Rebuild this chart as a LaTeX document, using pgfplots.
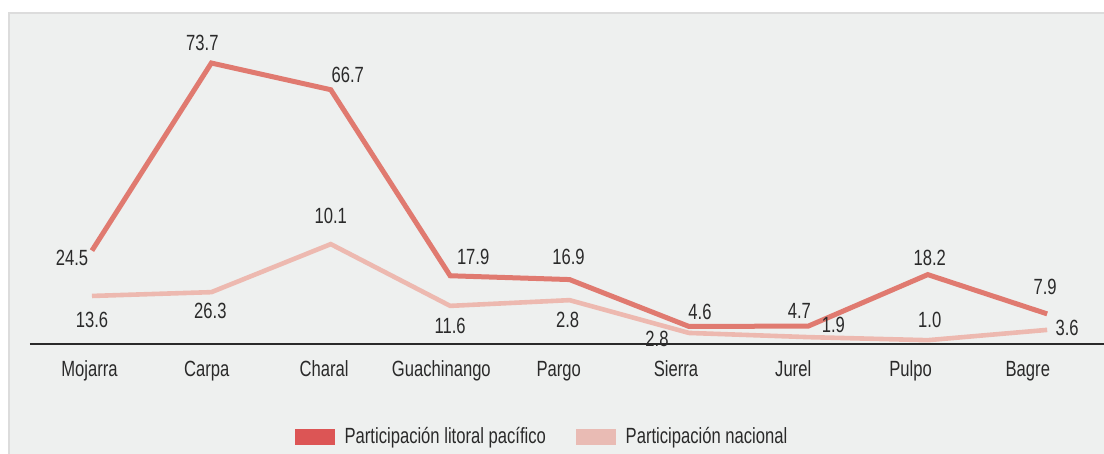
\documentclass[border=0pt]{standalone}
\usepackage{pgfplots}
\pgfplotsset{compat=1.18}
\usepackage{pgfplotstable}
\usepackage{fontspec}
\setmainfont{Liberation Sans}[FakeStretch=0.755]
\definecolor{panel}{HTML}{EEF0EF}
\definecolor{panelborder}{HTML}{DCDCDC}
\definecolor{txt}{HTML}{2A2A2A}
\definecolor{litoral}{HTML}{E07A70}
\definecolor{nacional}{HTML}{EDB9B0}
\definecolor{legred}{HTML}{DC5555}
\definecolor{legpink}{HTML}{E9BBB4}

\pgfplotstableread{
x y lab dx dy
0 24.5 24.5 -20 7.5
1 73.7 73.7 -9 -20
2 66.7 66.7 17 -15
3 17.9 17.9 23 -19
4 16.9 16.9 -1 -23
5 4.6 4.6 11 -14.5
6 4.7 4.7 -9 -15
7 18.2 18.2 2 -17
8 7.9 7.9 -2 -27
}\litoraltable

\pgfplotstableread{
x y lab dx dy
0 12.6 13.6 0 24
1 13.6 26.3 -1 19
2 26.2 10.1 0 -28
3 10.0 11.6 0 20
4 11.5 2.8 -2 20
5 2.9 2.8 -32 6
6 1.8 1.9 25 -12
7 1.0 1.0 2 -20
8 3.7 3.6 20 -2
}\nacionaltable

\begin{document}
\begin{tikzpicture}[font=\fontsize{11}{13.2}\selectfont, text=txt]
\useasboundingbox (-15pt,-55pt) rectangle (537pt,172pt);
\begin{scope}
\clip (-15pt,-55pt) rectangle (537pt,172pt);
\filldraw[fill=panel, draw=panelborder, line width=0.8pt] (-10.5pt,165.5pt) rectangle (545pt,-62pt);
\end{scope}
\begin{axis}[
  scale only axis,
  width=537pt, height=152.5pt,
  xmin=-0.519, xmax=8.476,
  ymin=0, ymax=80,
  clip=false,
  axis x line=bottom,
  axis y line=none,
  axis line style={-, draw=txt, line width=0.8pt},
  xtick={-0.021,0.961,1.944,2.926,3.909,4.891,5.873,6.856,7.838},
  xticklabels={Mojarra,Carpa,Charal,Guachinango,Pargo,Sierra,Jurel,Pulpo,Bagre},
  major tick length=0pt,
  xticklabel style={anchor=base, yshift=-16.5pt, text=txt},
  point meta=explicit symbolic,
  nodes near coords,
  visualization depends on={\thisrow{dx} \as \dx},
  visualization depends on={\thisrow{dy} \as \dy},
  every node near coord/.append style={anchor=center, text=txt, xshift={(\dx)*0.5pt}, yshift={-(\dy)*0.5pt}},
  legend columns=2,
  legend style={draw=none, fill=none, at={(0.4777,-0.305)}, anchor=center,
    text=txt,
    /tikz/every even column/.append style={column sep=13pt}},
]
\addplot[nacional, line width=2.3pt, mark=none, forget plot] table[x=x, y=y, meta=lab] {\nacionaltable};
\addplot[litoral, line width=2.5pt, mark=none, forget plot] table[x=x, y=y, meta=lab] {\litoraltable};
\addlegendimage{legend image code/.code={\fill[legred] (0pt,-3.75pt) rectangle (19.5pt,3.75pt); \path (22.5pt,0pt);}}
\addlegendentry{Participación litoral pacífico}
\addlegendimage{legend image code/.code={\fill[legpink] (0pt,-3.75pt) rectangle (19.5pt,3.75pt); \path (22.5pt,0pt);}}
\addlegendentry{Participación nacional}
\end{axis}
\end{tikzpicture}
\end{document}
